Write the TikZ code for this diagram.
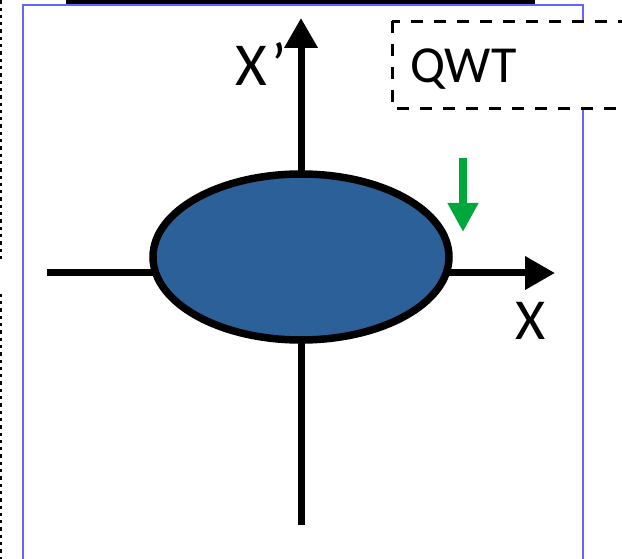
\documentclass[tikz,border=0pt]{standalone}
\usepackage{fontspec}
\setmainfont{Carlito}
\usetikzlibrary{arrows.meta}
\definecolor{frameblue}{RGB}{100,100,255}
\definecolor{ellfill}{RGB}{43,96,152}
\definecolor{arrgreen}{RGB}{0,168,60}
\tikzset{
  frame/.style={draw=frameblue,line width=1.5pt},
  topbox/.style={draw=black,fill=white,line width=4pt},
  qwtbox/.style={draw=black,fill=white,line width=3pt,dash pattern=on 12pt off 11pt},
  sidebox/.style={draw=black,line width=4pt,dash pattern=on 3.3pt off 4pt},
  axis/.style={draw=black,line width=7pt,-{Triangle[length=30pt,width=32pt]}},
  blob/.style={draw=black,fill=ellfill,line width=7.5pt},
  greenarr/.style={draw=arrgreen,line width=8pt,-{Triangle[length=29pt,width=29pt]}},
  lbl/.style={font=\fontsize{52}{52}\selectfont,inner sep=0pt,anchor=base west},
  biglbl/.style={font=\fontsize{58}{58}\selectfont,inner sep=0pt,anchor=base west},
  xplbl/.style={font=\fontsize{61}{61}\selectfont,inner sep=0pt,anchor=base west}
}
\begin{document}
\begin{tikzpicture}[x=1pt,y=-1pt]
\useasboundingbox (0,0) rectangle (622,559);
\begin{scope}
\clip (0,0) rectangle (622,559);
% blue frame
\draw[frame] (23,5) rectangle (583,600);
% top box
\draw[topbox] (68,-60) rectangle (533,2.5);
% left dotted boxes
\draw[sidebox] (-100,-20) rectangle (0,263);
\draw[sidebox] (-100,291) rectangle (0,620);
% QWT box
\draw[qwtbox] (392,21.5) rectangle (700,108.5);
\node[lbl] (qwt) at (410,83) {QWT};
% axes
\coordinate (vbot) at (301,525);
\coordinate (vtop) at (301,18);
\coordinate (hleft) at (47,273);
\coordinate (hright) at (555,273);
\draw[axis] (vbot) -- (vtop);
\draw[axis] (hleft) -- (hright);
% ellipse
\coordinate (ec) at (301,257);
\draw[blob] (ec) ellipse [x radius=148, y radius=83];
% green arrow
\coordinate (gtop) at (463,158);
\coordinate (gbot) at (463,232);
\draw[greenarr] (gtop) -- (gbot);
% labels
\node[xplbl] (xp) at (235,86) {X\kern5pt’};
\node[biglbl] (xl) at (515,339) {X};
\end{scope}
\end{tikzpicture}
\end{document}
